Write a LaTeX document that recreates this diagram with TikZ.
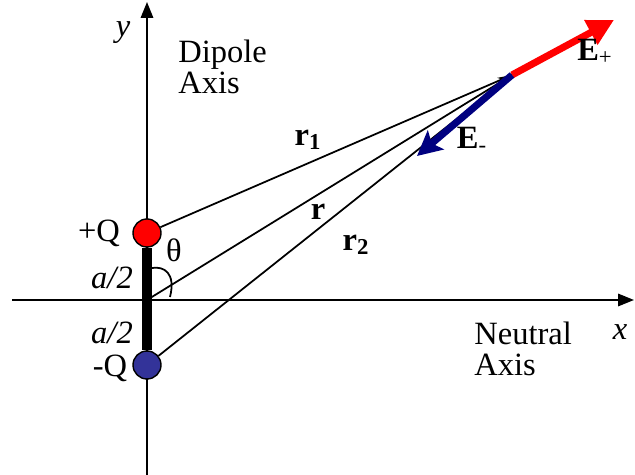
\documentclass[tikz,border=0pt]{standalone}
\usepackage{fontspec}
\setmainfont{Liberation Serif}
\usetikzlibrary{arrows.meta}
\definecolor{PosRed}{HTML}{FF0000}
\definecolor{NegBlue}{HTML}{000080}
\definecolor{ChargeBlue}{HTML}{333399}
\tikzset{
  charge node/.style={draw=black,thick,circle,minimum size=0.56cm,inner sep=0pt},
  axis arrow/.style={-{Triangle[length=9pt,width=7pt]},line width=1.1pt},
  ray line/.style={line width=1pt},
  field arrow/.style={line width=4pt},
  label text/.style={font=\fontsize{18.5}{18}\selectfont,inner sep=0pt}
}
\begin{document}
\begin{tikzpicture}[x=0.02cm,y=0.02cm]
  \useasboundingbox (0,0) rectangle (635,475);
  % axes
  \coordinate (origin) at (147,175);
  \coordinate (ybot) at (147,0);
  \coordinate (ytop) at (147,473);
  \coordinate (xleft) at (12,175);
  \coordinate (xright) at (634,175);
  \draw[axis arrow] (ybot) -- (ytop);
  \draw[axis arrow] (xleft) -- (xright);
  % charges
  \node[charge node,fill=PosRed] (plusq) at (147,242) {};
  \node[charge node,fill=ChargeBlue] (minusq) at (147,110) {};
  % field point
  \coordinate (field) at (512,400);
  \coordinate (eplustip) at (614,455);
  \coordinate (eminustip) at (417,319);
  \draw[ray line] (plusq) -- (field);
  \draw[ray line,-{Stealth[length=8pt,width=6pt]}] (origin) -- (field);
  \draw[ray line] (minusq) -- (field);
  \draw[line width=5.7pt] (plusq.south) -- (minusq.north);
  \draw[ray line] (152,207) .. controls (164,209) and (176,202) .. (170,178);
  \draw[field arrow,draw=PosRed,-{Triangle[length=15pt,width=15pt]}] (field) -- (eplustip);
  \draw[field arrow,draw=NegBlue,-{Stealth[length=14pt,width=14pt,inset=3pt]}] (field) -- (eminustip);
  % labels
  \node[label text] (ylab) at (123,442) {\textit{y}};
  \node[label text,align=left,anchor=west] (dipole) at (178,408) {Dipole\\Axis};
  \node[label text] (xlab) at (620,143) {\textit{x}};
  \node[label text,align=left,anchor=west] (neutral) at (474,126) {Neutral\\Axis};
  \node[label text] (rone) at (308,335) {\textbf{r}\textsubscript{\textbf{1}}};
  \node[label text] (rlab) at (318,263) {\textbf{r}};
  \node[label text] (rtwo) at (356,230) {\textbf{r}\textsubscript{\textbf{2}}};
  \node[label text] (eplus) at (595,423) {\textbf{E}\textsubscript{+}};
  \node[label text] (eminus) at (472,335) {\textbf{E}\textsubscript{-}};
  \node[label text] (pluslab) at (99,242) {+Q};
  \node[label text] (minuslab) at (110,107) {-Q};
  \node[label text] (theta) at (174,225) {θ};
  \node[label text] (halfup) at (112,197) {\textit{a/2}};
  \node[label text] (halfdown) at (112,142) {\textit{a/2}};
\end{tikzpicture}
\end{document}
